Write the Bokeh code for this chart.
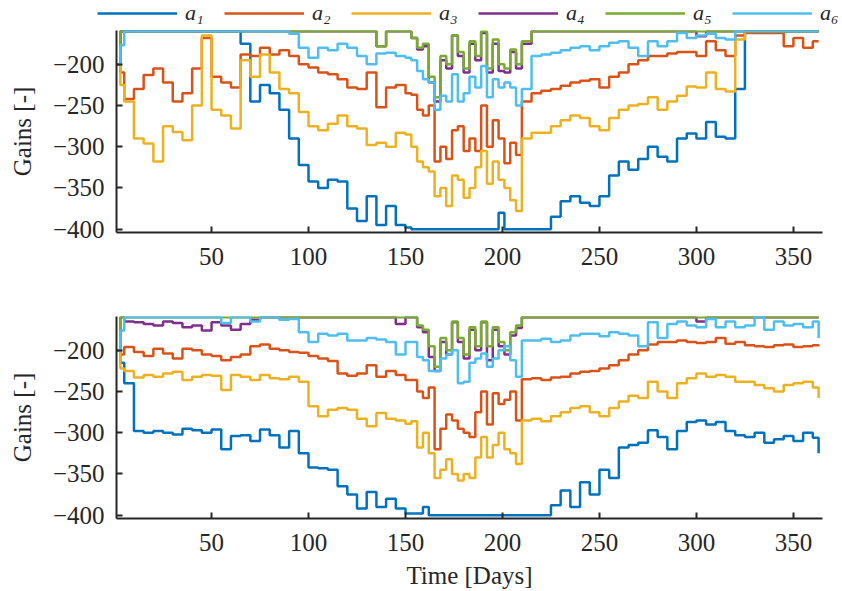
import numpy as np
from bokeh.plotting import figure
from bokeh.models import Range1d, FixedTicker, Legend, LegendItem
from bokeh.layouts import column
from bokeh.embed import file_html
from bokeh.resources import INLINE

days = [1, 3,
        5, 10, 15, 20, 25, 30, 35, 40, 45, 50, 55, 60, 65, 70, 75, 80, 85, 90,
        95, 100, 105, 110, 115, 120, 125, 130, 135, 140, 145, 150,
        153, 156, 159, 162, 165, 168, 171, 174, 177, 180, 183, 186, 189, 192,
        195, 198, 201, 204, 207, 210,
        215, 220, 225, 230, 235, 240, 245, 250, 255, 260, 265, 270, 275, 280,
        285, 290, 295, 300, 305, 310, 315, 320, 325, 330, 335, 340, 345, 350,
        355, 360,
        363]

labels = ["a\u2081", "a\u2082", "a\u2083", "a\u2084", "a\u2085", "a\u2086"]
colors = ["#0072BD", "#D95319", "#EDB120", "#7E2F8E", "#77AC30", "#4DBEEE"]
x_ticks = [50, 100, 150, 200, 250, 300, 350]
y_ticks = [-400, -350, -300, -250, -200]

# ---------------- top panel ----------------
top_a1 = [-200, -160,
          -160, -160, -160, -160, -160, -160, -160, -160, -160, -160, -160, -160,
          -175, -245, -225, -235, -255, -290, -322, -342, -350, -340, -342, -375,
          -390, -360, -395, -372, -395, -398,
          -400, -400, -400, -400, -400, -400, -400, -400, -400, -400, -400, -400,
          -400, -400, -400, -380, -400, -400, -400, -400,
          -400, -400, -385, -366, -360, -368, -372, -360, -335, -318, -328, -315,
          -300, -312, -318, -290, -284, -290, -270, -288, -290, -230, -160, -160,
          -160, -160, -160, -160, -160, -160,
          -160]
top_a2 = [-200, -210,
          -242, -230, -213, -205, -222, -245, -235, -205, -168, -215, -222, -228,
          -188, -190, -180, -188, -183, -190, -200, -204, -210, -212, -218, -228,
          -230, -210, -252, -228, -225, -235,
          -237, -255, -262, -250, -318, -300, -315, -280, -275, -305, -290, -305,
          -250, -300, -268, -290, -320, -295, -310, -245,
          -235, -232, -230, -226, -222, -220, -218, -228, -215, -210, -200, -195,
          -190, -190, -187, -185, -185, -190, -172, -183, -190, -165, -162, -162,
          -162, -162, -178, -168, -180, -172,
          -172]
top_a3 = [-200, -225,
          -245, -290, -296, -318, -275, -282, -292, -250, -165, -255, -262, -278,
          -195, -215, -188, -210, -230, -235, -258, -275, -280, -272, -262, -275,
          -278, -298, -295, -300, -283, -285,
          -300, -318, -325, -330, -360, -350, -372, -335, -340, -362, -350, -325,
          -305, -345, -318, -340, -350, -365, -378, -290,
          -283, -283, -275, -268, -262, -265, -275, -280, -265, -255, -250, -248,
          -240, -255, -245, -238, -227, -228, -210, -230, -233, -170, -160, -160,
          -160, -160, -160, -160, -160, -160,
          -160]
top_a4 = [-200, -160,
          -160, -160, -160, -160, -160, -160, -160, -160, -160, -160, -160, -160,
          -160, -160, -160, -160, -160, -160, -160, -160, -160, -160, -160, -160,
          -160, -160, -178, -160, -160, -160,
          -168, -182, -178, -222, -245, -195, -205, -165, -190, -210, -175, -195,
          -162, -210, -175, -208, -210, -185, -205, -175,
          -160, -160, -160, -160, -160, -160, -160, -160, -160, -160, -160, -160,
          -160, -160, -160, -160, -160, -166, -160, -160, -160, -160, -160, -160,
          -160, -160, -160, -160, -160, -160,
          -160]
top_a5 = [-200, -160,
          -160, -160, -160, -160, -160, -160, -160, -160, -160, -160, -160, -160,
          -160, -160, -160, -160, -160, -160, -160, -160, -160, -160, -160, -160,
          -160, -160, -178, -160, -160, -160,
          -168, -180, -175, -215, -240, -190, -200, -165, -185, -205, -172, -190,
          -160, -205, -170, -200, -205, -182, -200, -172,
          -160, -160, -160, -160, -160, -160, -160, -160, -160, -160, -160, -160,
          -160, -160, -160, -160, -160, -160, -160, -160, -160, -160, -160, -160,
          -160, -160, -160, -160, -160, -160,
          -160]
top_a6 = [-200, -177,
          -160, -160, -160, -160, -160, -160, -160, -160, -160, -160, -160, -160,
          -160, -160, -160, -160, -160, -163, -180, -192, -180, -183, -175, -180,
          -190, -200, -187, -186, -190, -192,
          -195, -208, -218, -222, -255, -238, -245, -212, -245, -235, -215, -228,
          -202, -240, -218, -228, -222, -228, -250, -230,
          -190, -188, -186, -183, -180, -178, -183, -178, -174, -172, -180, -190,
          -172, -178, -172, -162, -168, -165, -163, -168, -170, -160, -160, -160,
          -160, -160, -160, -160, -160, -160,
          -160]

# ---------------- bottom panel ----------------
bot_a1 = [-200, -215,
          -240, -298, -300, -298, -300, -302, -295, -297, -300, -296, -320, -304,
          -303, -310, -296, -303, -318, -298, -325, -342, -343, -345, -365, -375,
          -392, -372, -390, -380, -392, -398,
          -398, -398, -390, -400, -400, -400, -400, -400, -400, -400, -400, -400,
          -400, -400, -400, -400, -400, -400, -400, -400,
          -400, -400, -388, -370, -390, -360, -375, -345, -355, -318, -315, -312,
          -297, -305, -320, -298, -287, -285, -290, -287, -298, -303, -305, -300,
          -312, -308, -304, -310, -300, -306,
          -325]
bot_a2 = [-200, -205,
          -196, -202, -207, -198, -204, -210, -198, -200, -205, -207, -212, -208,
          -205, -195, -193, -198, -200, -202, -203, -207, -210, -213, -228, -231,
          -228, -218, -232, -225, -230, -236,
          -236, -250, -258, -245, -320, -295, -278, -285, -295, -300, -305, -275,
          -250, -290, -252, -265, -260, -250, -285, -235,
          -234, -236, -233, -232, -228, -226, -225, -222, -218, -212, -205, -200,
          -193, -190, -190, -188, -190, -191, -190, -185, -192, -190, -194, -195,
          -196, -194, -193, -196, -195, -194,
          -195]
bot_a3 = [-200, -222,
          -225, -233, -230, -232, -228, -226, -236, -232, -230, -231, -248, -230,
          -232, -236, -230, -234, -235, -232, -238, -268, -280, -272, -270, -272,
          -283, -292, -276, -283, -285, -289,
          -286, -318, -300, -325, -355, -345, -332, -350, -358, -350, -355, -330,
          -305, -330, -315, -300, -320, -325, -338, -285,
          -283, -286, -280, -275, -270, -268, -275, -280, -270, -262, -255, -258,
          -238, -250, -258, -240, -234, -228, -232, -230, -232, -238, -238, -242,
          -246, -250, -242, -240, -238, -245,
          -258]
bot_a4 = [-200, -160,
          -165, -166, -168, -170, -165, -167, -172, -170, -176, -166, -170, -175,
          -168, -163, -160, -160, -160, -160, -160, -160, -160, -160, -160, -160,
          -160, -160, -160, -160, -168, -160,
          -160, -172, -178, -208, -225, -190, -205, -166, -190, -210, -175, -200,
          -166, -212, -175, -195, -205, -182, -173, -160,
          -160, -160, -160, -160, -160, -160, -160, -160, -160, -160, -160, -160,
          -160, -160, -160, -160, -160, -165, -160, -160, -160, -160, -160, -160,
          -160, -160, -160, -160, -160, -160,
          -160]
bot_a5 = [-200, -160,
          -160, -160, -160, -160, -160, -160, -160, -160, -160, -160, -160, -160,
          -160, -160, -160, -160, -160, -160, -160, -160, -160, -160, -160, -160,
          -160, -160, -160, -160, -160, -160,
          -160, -170, -175, -195, -220, -185, -200, -165, -185, -205, -172, -195,
          -165, -195, -172, -190, -200, -178, -170, -160,
          -160, -160, -160, -160, -160, -160, -160, -160, -160, -160, -160, -160,
          -160, -160, -160, -160, -160, -160, -160, -160, -160, -160, -160, -160,
          -160, -160, -160, -160, -160, -160,
          -160]
bot_a6 = [-200, -176,
          -160, -160, -160, -160, -160, -160, -160, -160, -160, -160, -167, -160,
          -160, -165, -160, -160, -163, -162, -178, -190, -180, -182, -180, -188,
          -188, -185, -187, -190, -205, -190,
          -190, -208, -212, -225, -225, -210, -205, -200, -240, -238, -215, -210,
          -204, -220, -210, -200, -195, -212, -232, -188,
          -188, -186, -190, -188, -182, -180, -180, -183, -178, -180, -182, -195,
          -166, -185, -168, -165, -170, -172, -162, -172, -165, -172, -170, -160,
          -175, -165, -170, -168, -172, -165,
          -185]

top_series = [top_a1, top_a2, top_a3, top_a4, top_a5, top_a6]
bot_series = [bot_a1, bot_a2, bot_a3, bot_a4, bot_a5, bot_a6]

FONT = "Liberation Serif"
AX = "#262626"


def make_panel(series, border_top, border_bottom, xlabel):
    p = figure(frame_width=706, frame_height=202,
               min_border_left=116, min_border_right=20,
               min_border_top=border_top, min_border_bottom=border_bottom,
               x_range=Range1d(1, 365), y_range=Range1d(-404, -159),
               output_backend="svg", toolbar_location=None)
    for ys, c in zip(series, colors):
        p.step(days, ys, mode="after", line_color=c, line_width=2.5)
    p.xgrid.visible = False
    p.ygrid.visible = False
    p.outline_line_color = None
    p.background_fill_color = "white"
    p.border_fill_color = "white"
    p.xaxis.ticker = FixedTicker(ticks=x_ticks)
    p.yaxis.ticker = FixedTicker(ticks=y_ticks)
    p.yaxis.major_label_overrides = {t: "\u2212" + str(-t) for t in y_ticks}
    for ax in (p.xaxis[0], p.yaxis[0]):
        ax.axis_line_color = AX
        ax.axis_line_width = 2
        ax.major_tick_line_color = AX
        ax.major_tick_line_width = 2
        ax.major_tick_in = 6
        ax.major_tick_out = 0
        ax.minor_tick_in = 0
        ax.minor_tick_out = 0
        ax.major_label_text_font = FONT
        ax.major_label_text_font_size = "25px"
        ax.major_label_text_color = AX
        ax.axis_label_text_font = FONT
        ax.axis_label_text_font_size = "25px"
        ax.axis_label_text_font_style = "normal"
        ax.axis_label_text_color = AX
    p.xaxis.major_label_standoff = 15
    p.yaxis.major_label_standoff = 12
    p.yaxis.axis_label = "Gains [-]"
    p.yaxis.axis_label_standoff = 14
    if xlabel:
        p.xaxis.axis_label = xlabel
        p.xaxis.axis_label_standoff = 8
    return p


# legend strip above the first panel
p0 = figure(frame_width=842, frame_height=30, min_border=0,
            x_range=Range1d(0, 1), y_range=Range1d(0, 1),
            x_axis_location=None, y_axis_location=None,
            output_backend="svg", toolbar_location=None)
p0.xgrid.visible = False
p0.ygrid.visible = False
p0.outline_line_color = None
nan_pt = np.array([np.nan])
legend_renderers = [p0.line(x=nan_pt, y=nan_pt, line_color=c, line_width=2.5) for c in colors]
legend = Legend(items=[LegendItem(label=l, renderers=[r]) for l, r in zip(labels, legend_renderers)],
                orientation="horizontal", location=(97, 4),
                glyph_width=80, glyph_height=22, label_height=22,
                label_standoff=8, spacing=19, padding=0, margin=0,
                border_line_color=None, background_fill_alpha=0,
                label_text_font=FONT, label_text_font_style="italic",
                label_text_font_size="22px", label_text_color=AX)
p0.add_layout(legend)

p1 = make_panel(top_series, 0, 50, None)
p2 = make_panel(bot_series, 34, 73, "Time [Days]")

layout = column(p0, p1, p2, spacing=0)
open("out.html", "w").write(file_html(layout, INLINE))
